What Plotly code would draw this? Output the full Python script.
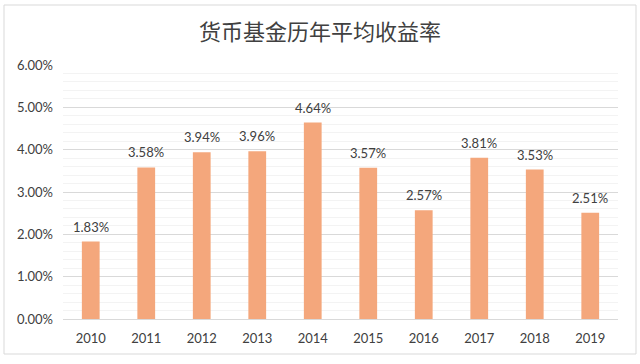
import plotly.graph_objects as go

years = ["2010", "2011", "2012", "2013", "2014", "2015", "2016", "2017", "2018", "2019"]
returns = [0.0183, 0.0358, 0.0394, 0.0396, 0.0464, 0.0357, 0.0257, 0.0381, 0.0353, 0.0251]
labels = [f"{v*100:.2f}%" for v in returns]

L, R, T, B = 63, 22, 65, 45
W, H = 640, 364
pw, ph = W - L - R, H - T - B
FONT = "Lato, Open Sans, sans-serif"

fig = go.Figure(go.Bar(
    x=years, y=returns,
    marker=dict(color="#F4A77C", line=dict(width=0)),
    hoverinfo="skip",
))

# on a category axis, annotation x is the category index
annotations = [dict(x=i, y=yv, text=t, xref="x", yref="y", showarrow=False,
                    yanchor="bottom", yshift=5,
                    font=dict(size=13, color="#404040", family=FONT))
               for i, (yv, t) in enumerate(zip(returns, labels))]

fig.update_layout(
    width=W, height=H,
    margin=dict(l=L, r=R, t=T, b=B),
    paper_bgcolor="white", plot_bgcolor="white",
    bargap=0.68,
    showlegend=False,
    annotations=annotations,
    title=dict(text="货币基金历年平均收益率", x=0.5, xref="container", xanchor="center",
               y=1 - 32 / H, yanchor="middle",
               font=dict(family="Noto Sans CJK SC", size=22, color="#404040")),
    font=dict(family=FONT, size=13, color="#404040"),
    xaxis=dict(type="category", categoryorder="array", categoryarray=years,
               range=[-0.5, len(years) - 0.5],
               showgrid=False, showline=True, linecolor="#d9d9d9", linewidth=1,
               ticks="", tickfont=dict(size=13, color="#404040"), ticklabelstandoff=7),
    yaxis=dict(range=[0, 0.06], dtick=0.01, tickformat=".2%", showgrid=True,
               gridcolor="#d9d9d9", gridwidth=1, zeroline=False, showline=False,
               tickfont=dict(size=13, color="#404040"), ticklabelstandoff=9,
               minor=dict(dtick=0.002, showgrid=True, gridcolor="#f3f3f3", gridwidth=1)),
    shapes=[dict(type="rect", xref="paper", yref="paper",
                 x0=(4 - L) / pw, x1=(636 - L) / pw,
                 y0=(H - B - 354) / ph, y1=(H - B - 5) / ph,
                 line=dict(color="#d9d9d9", width=1), fillcolor="rgba(0,0,0,0)", layer="below")],
)

fig.write_html("out.html", config={"displayModeBar": False},
               post_script="document.body.style.margin='0';document.body.style.overflow='hidden';")
